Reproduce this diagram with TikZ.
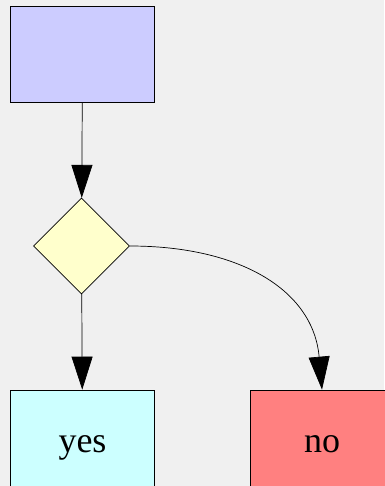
\documentclass[tikz,border=0pt]{standalone}
\usepackage{fontspec}
\setmainfont{Liberation Serif}
\usetikzlibrary{arrows.meta,shapes.geometric}
\definecolor{bgGray}{HTML}{F0F0F0}
\definecolor{startBlue}{HTML}{CCCCFF}
\definecolor{testYellow}{HTML}{FFFFCC}
\definecolor{yesCyan}{HTML}{CCFFFF}
\definecolor{noRed}{HTML}{FF8080}
\tikzset{
    box/.style={draw, rectangle, minimum width=144pt, minimum height=96pt, inner sep=0pt,
        text height=28pt, text depth=0pt, font=\fontsize{36}{43}\selectfont},
    test/.style={draw, diamond, minimum size=96pt, inner sep=0pt, fill=testYellow},
    flow/.style={-{Triangle[length=33pt,width=21pt]}, line width=0.7pt}
}
\begin{document}
\begin{tikzpicture}[x=1pt, y=-1pt, line width=0.7pt]
        \fill[bgGray] (0, 0) rectangle (384, 486);
        \useasboundingbox (0, 0) rectangle (384, 486);
        \draw   (82.5, 54) node [box, fill=startBlue] (Start) {}
                (81.5, 246) node [test] (Test) {}
                (82.5, 438) node [box, fill=yesCyan] (Yes) {yes}
                (322, 438) node [box, fill=noRed] (No) {no}

                (Start) edge [flow] (Test)
                (Test) edge [flow] (Yes)
                (Test.east) edge [flow, out=0, in=95, out distance=110pt, in distance=100pt] (No.north)
                ;
    \end{tikzpicture}
\end{document}
